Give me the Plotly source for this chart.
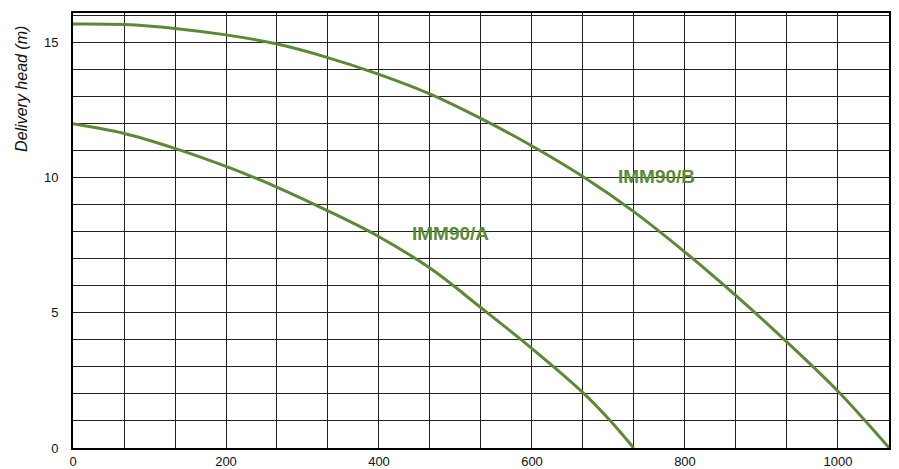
import plotly.graph_objects as go

# Flow rate (x) and delivery head (m)
flow_b = [0, 67, 133, 200, 267, 333, 400, 467, 533, 600, 667, 733, 800, 867, 933, 1000, 1067]
head_b = [15.69, 15.67, 15.53, 15.29, 14.95, 14.45, 13.83, 13.10, 12.20, 11.18, 10.04, 8.75, 7.25, 5.63, 3.93, 2.10, 0.0]

flow_a = [0, 67, 133, 200, 267, 333, 400, 467, 533, 600, 667, 700, 733]
head_a = [12.0, 11.64, 11.09, 10.42, 9.65, 8.78, 7.82, 6.65, 5.20, 3.68, 2.04, 1.08, 0.0]

series_names = ["IMM90/A", "IMM90/B"]
label_pos = {"IMM90/A": (494, 7.94), "IMM90/B": (763, 10.04)}

x_ticks = [0, 200, 400, 600, 800, 1000]
y_ticks = [0, 5, 10, 15]

GREEN = "#5B8A35"

fig = go.Figure()
for name, xs, ys in [("IMM90/A", flow_a, head_a), ("IMM90/B", flow_b, head_b)]:
    fig.add_trace(go.Scatter(x=xs, y=ys, mode="lines", name=name,
                             line=dict(color=GREEN, width=3, shape="spline", smoothing=1.0),
                             showlegend=False, hoverinfo="skip"))
    lx, ly = label_pos[name]
    fig.add_annotation(x=lx, y=ly, text=f"<b>{name}</b>", showarrow=False,
                       font=dict(family="Liberation Sans, Arial", size=19, color=GREEN),
                       xanchor="center", yanchor="middle")

fig.add_annotation(xref="paper", yref="paper", x=-0.064, y=0.825,
                   text="<i>Delivery head (m)</i>", textangle=-90, showarrow=False,
                   font=dict(family="Liberation Sans, Arial", size=16, color="#111"),
                   xanchor="center", yanchor="middle")

fig.update_xaxes(range=[0, 1066.7], tickvals=x_ticks, ticktext=[str(v) for v in x_ticks],
                 showgrid=True, gridcolor="#222", gridwidth=1, automargin=False,
                 minor=dict(dtick=200/3, tick0=0, showgrid=True, gridcolor="#222", gridwidth=1),
                 showline=True, linecolor="#000", linewidth=2, mirror=True,
                 zeroline=False, ticks="", ticklabelstandoff=0,
                 tickfont=dict(family="Liberation Sans, Arial", size=13, color="#111"))
fig.update_yaxes(range=[0, 16.1], tickvals=y_ticks, ticktext=[str(v) for v in y_ticks],
                 showgrid=True, gridcolor="#222", gridwidth=1, automargin=False,
                 minor=dict(dtick=1, tick0=0, showgrid=True, gridcolor="#222", gridwidth=1),
                 showline=True, linecolor="#000", linewidth=2, mirror=True,
                 zeroline=False, ticks="", ticklabelstandoff=10,
                 tickfont=dict(family="Liberation Sans, Arial", size=13, color="#111"))

# the page body adds an 8px offset, so the figure is sized to fit the window
fig.update_layout(width=891, height=461, margin=dict(l=65, r=10, t=5, b=21, autoexpand=False),
                  plot_bgcolor="white", paper_bgcolor="white")

fig.write_html("out.html")
